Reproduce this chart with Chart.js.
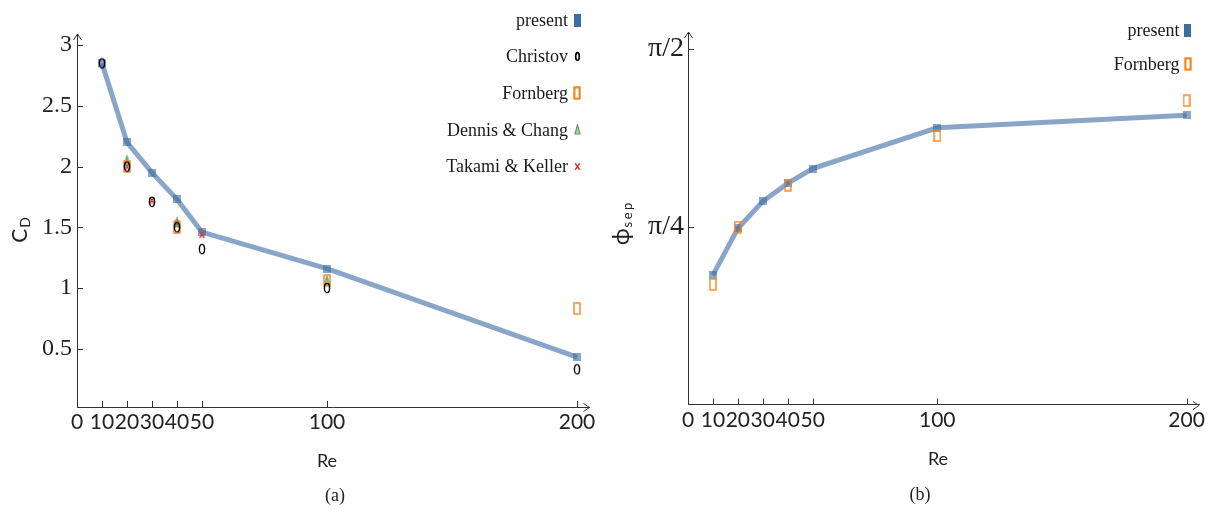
<!DOCTYPE html>
<html>
<head>
<meta charset="utf-8">
<script src="https://cdn.jsdelivr.net/npm/chart.js@4.4.1/dist/chart.umd.min.js"></script>
<style>
  html, body { margin: 0; padding: 0; background: #fff; }
  #wrap { position: relative; width: 1208px; height: 515px; overflow: hidden; }
  .panel { position: absolute; top: 0; width: 604px; height: 515px; }
  .cap { position: absolute; font: 18px "Liberation Serif", serif; color: #222; transform: translate(-50%, -50%); white-space: nowrap; }
</style>
</head>
<body>
<div id="wrap">
  <div class="panel" style="left:0"><canvas id="cd" width="604" height="515"></canvas></div>
  <div class="panel" style="left:604px"><canvas id="phi" width="604" height="515"></canvas></div>
  <div class="cap" style="left:335px;top:495px">(a)</div>
  <div class="cap" style="left:920px;top:494px">(b)</div>
</div>
<script>
// Reynolds numbers and axis ticks
const reTicks = [0, 10, 20, 30, 40, 50, 100, 200];
const re = [10, 20, 30, 40, 50, 100, 200];

// Drag coefficient C_D
const cdTicks = [0.5, 1, 1.5, 2, 2.5, 3];
const cdPresent = [2.85, 2.20, 1.95, 1.73, 1.46, 1.16, 0.43];
const christovRe = [10, 20, 30, 40, 50, 100, 200];
const cdChristov = [2.85, 2.00, 1.71, 1.50, 1.32, 1.00, 0.33];
const fornbergCdRe = [20, 40, 100, 200];
const cdFornberg = [2.00, 1.50, 1.06, 0.83];
const dennisRe = [20, 40, 100];
const cdDennis = [2.05, 1.54, 1.06];
const takamiRe = [20, 30, 40, 50];
const cdTakami = [2.00, 1.72, 1.53, 1.44];

// Separation angle phi_sep (radians)
const phiTicks = [Math.PI / 4, Math.PI / 2];
const phiTickLabels = ['π/4', 'π/2'];
const phiPresent = [0.571, 0.777, 0.897, 0.976, 1.041, 1.221, 1.277];
const fornbergPhiRe = [10, 20, 40, 100, 200];
const phiFornberg = [0.530, 0.782, 0.968, 1.187, 1.341];

const pts = (xs, ys) => xs.map((v, i) => ({ x: v, y: ys[i] }));

// small marker glyphs
function glyph(w, h, draw) {
  const c = document.createElement('canvas');
  c.width = w; c.height = h;
  draw(c.getContext('2d'), w, h);
  return c;
}
const BLUE_LINE = '#89a6c8';
const mkPresent = glyph(8, 8, (g, w, h) => { g.fillStyle = 'rgba(62,106,160,0.6)'; g.fillRect(0, 0, w, h); });
const mkPresentKey = glyph(7, 13, (g, w, h) => { g.fillStyle = '#3d6da3'; g.fillRect(0, 0, w, h); });
const ellipse = (lw) => (g, w, h) => {
  g.strokeStyle = '#000'; g.lineWidth = lw;
  g.beginPath(); g.ellipse(w / 2, h / 2, w / 2 - lw, h / 2 - lw, 0, 0, Math.PI * 2); g.stroke();
};
const mkChristov = glyph(8, 12, ellipse(1.4));
const mkChristovKey = glyph(7, 11, ellipse(1.7));
const box = (lw) => (g, w, h) => {
  g.strokeStyle = '#f5861c'; g.lineWidth = lw;
  g.strokeRect(lw / 2 + 0.3, lw / 2 + 0.3, w - lw - 0.6, h - lw - 0.6);
};
const mkFornberg = glyph(8, 13, box(1.4));
const mkFornbergKey = glyph(8, 14, box(2.2));
const tri = (g, w, h) => {
  g.strokeStyle = '#5a9c55'; g.fillStyle = 'rgba(90,156,85,0.45)'; g.lineWidth = 1.2;
  g.beginPath(); g.moveTo(w / 2, 0.8); g.lineTo(w - 1, h - 1); g.lineTo(1, h - 1); g.closePath(); g.fill(); g.stroke();
};
const mkDennis = glyph(7, 11, tri);
const mkDennisKey = glyph(7, 11, tri);
const cross = (g, w, h) => {
  g.strokeStyle = '#d23a3c'; g.lineWidth = 1.5;
  g.beginPath(); g.moveTo(1.2, 1.2); g.lineTo(w - 1.2, h - 1.2); g.moveTo(w - 1.2, 1.2); g.lineTo(1.2, h - 1.2); g.stroke();
};
const mkTakami = glyph(7, 9, cross);
const mkTakamiKey = glyph(7, 9, cross);

// axis arrows, inward ticks, axis titles and the key
const decor = {
  id: 'decor',
  afterDraw(chart, args, o) {
    const { ctx, chartArea: a, scales: { x, y } } = chart;
    ctx.save();
    ctx.strokeStyle = '#333';
    ctx.lineWidth = 1;
    ctx.beginPath();
    x.ticks.forEach(t => {
      if (t.value === 0) return;
      const px = Math.round(x.getPixelForValue(t.value)) + 0.5;
      ctx.moveTo(px, a.bottom); ctx.lineTo(px, a.bottom - 6);
    });
    y.ticks.forEach(t => {
      const py = Math.round(y.getPixelForValue(t.value)) + 0.5;
      ctx.moveTo(a.left, py); ctx.lineTo(a.left + 6, py);
    });
    const L = Math.round(a.left) + 0.5, B = Math.round(a.bottom) + 0.5;
    ctx.moveTo(L - 4, a.top + 6); ctx.lineTo(L, a.top); ctx.lineTo(L + 4, a.top + 6);
    ctx.moveTo(a.right - 6, B - 4); ctx.lineTo(a.right, B); ctx.lineTo(a.right - 6, B + 4);
    ctx.stroke();

    // x title
    ctx.fillStyle = '#222';
    ctx.font = '18px Lato';
    ctx.textAlign = 'center';
    ctx.textBaseline = 'middle';
    ctx.fillText(o.xTitle.text, o.xTitle.x, o.xTitle.y);

    // y title with subscript, rotated
    const t = o.yTitle;
    ctx.translate(t.x, t.y);
    ctx.rotate(-Math.PI / 2);
    ctx.textAlign = 'left';
    ctx.textBaseline = 'alphabetic';
    ctx.font = t.mainFont;
    const wMain = ctx.measureText(t.main).width;
    ctx.font = t.subFont;
    const wSub = ctx.measureText(t.sub).width + t.subSpacing * (t.sub.length - 1);
    const x0 = -(wMain + t.gap + wSub) / 2;
    ctx.font = t.mainFont;
    ctx.fillText(t.main, x0, t.base);
    ctx.font = t.subFont;
    let sx = x0 + wMain + t.gap;
    for (const ch of t.sub) {
      ctx.fillText(ch, sx, t.base + t.subDrop);
      sx += ctx.measureText(ch).width + t.subSpacing;
    }
    ctx.setTransform(1, 0, 0, 1, 0, 0);

    // key
    const k = o.key;
    ctx.font = '18px "Liberation Serif"';
    ctx.textAlign = 'right';
    ctx.textBaseline = 'middle';
    ctx.fillStyle = '#1a1a1a';
    k.items.forEach((it, i) => {
      const cy = k.y0 + i * k.step;
      ctx.fillText(it.label, k.textRight, cy + 1);
      ctx.drawImage(it.icon, Math.round(k.iconX - it.icon.width / 2), Math.round(cy - it.icon.height / 2));
    });
    ctx.restore();
  }
};

function xScale(height) {
  return {
    type: 'linear', min: 0, max: 205,
    afterBuildTicks: s => { s.ticks = reTicks.map(v => ({ value: v })); },
    afterFit: s => { s.height = height; s.paddingLeft = 0; s.paddingRight = 0; },
    ticks: { autoSkip: false, maxRotation: 0, minRotation: 0, padding: 3, color: '#222',
             font: { family: 'Lato', size: 21 }, callback: v => String(v) },
    grid: { display: false, drawTicks: false },
    border: { display: true, color: '#333', width: 1 }
  };
}

const presentStyle = {
  borderColor: BLUE_LINE, borderWidth: 5, showLine: true, pointStyle: mkPresent,
  pointRadius: 4, pointHoverRadius: 4, order: 10, clip: false
};
const markerDs = (label, data, icon) => ({ label, data, pointStyle: icon, showLine: false,
  pointRadius: 5, pointHoverRadius: 5, order: 1, clip: false });

new Chart(document.getElementById('cd'), {
  type: 'scatter',
  data: {
    datasets: [
      Object.assign({ label: 'present', data: pts(re, cdPresent) }, presentStyle),
      markerDs('Christov', pts(christovRe, cdChristov), mkChristov),
      markerDs('Fornberg', pts(fornbergCdRe, cdFornberg), mkFornberg),
      markerDs('Dennis & Chang', pts(dennisRe, cdDennis), mkDennis),
      markerDs('Takami & Keller', pts(takamiRe, cdTakami), mkTakami)
    ]
  },
  options: {
    responsive: false, animation: false,
    layout: { padding: { left: 0, top: 34, right: 14.5, bottom: 48 } },
    scales: {
      x: xScale(60),
      y: {
        type: 'linear', min: 0.02, max: 3.092,
        afterBuildTicks: s => { s.ticks = cdTicks.map(v => ({ value: v })); },
        afterFit: s => { s.width = 77; s.paddingTop = 0; s.paddingBottom = 0; },
        ticks: { padding: 5, color: '#222', font: { family: 'Liberation Serif', size: 24 },
                 callback: v => String(v) },
        grid: { display: false, drawTicks: false },
        border: { display: true, color: '#333', width: 1 }
      }
    },
    plugins: {
      legend: { display: false }, tooltip: { enabled: false },
      decor: {
        xTitle: { text: 'Re', x: 327, y: 461 },
        yTitle: { x: 27, y: 230, main: 'C', sub: 'D', mainFont: '21px Lato', subFont: '14px Lato',
                  gap: 1, subSpacing: 0, subDrop: 3, base: 0 },
        key: { textRight: 568, iconX: 577, y0: 20, step: 36.6, items: [
          { label: 'present', icon: mkPresentKey },
          { label: 'Christov', icon: mkChristovKey },
          { label: 'Fornberg', icon: mkFornbergKey },
          { label: 'Dennis & Chang', icon: mkDennisKey },
          { label: 'Takami & Keller', icon: mkTakamiKey }
        ] }
      }
    }
  },
  plugins: [decor]
});

new Chart(document.getElementById('phi'), {
  type: 'scatter',
  data: {
    datasets: [
      Object.assign({ label: 'present', data: pts(re, phiPresent) }, presentStyle),
      markerDs('Fornberg', pts(fornbergPhiRe, phiFornberg), mkFornberg)
    ]
  },
  options: {
    responsive: false, animation: false,
    layout: { padding: { left: 0, top: 32, right: 7.5, bottom: 50.5 } },
    scales: {
      x: xScale(60),
      y: {
        type: 'linear', min: 0, max: 1.644,
        afterBuildTicks: s => { s.ticks = phiTicks.map(v => ({ value: v })); },
        afterFit: s => { s.width = 84; s.paddingTop = 0; s.paddingBottom = 0; },
        ticks: { padding: 4, color: '#222', font: { family: 'Liberation Serif', size: 28 },
                 callback: (v, i) => phiTickLabels[i] },
        grid: { display: false, drawTicks: false },
        border: { display: true, color: '#333', width: 1 }
      }
    },
    plugins: {
      legend: { display: false }, tooltip: { enabled: false },
      decor: {
        xTitle: { text: 'Re', x: 334, y: 459 },
        yTitle: { x: 25, y: 224, main: 'ϕ', sub: 'sep', mainFont: '23px Lato', subFont: '13px Lato',
                  gap: 1, subSpacing: 2.5, subDrop: 3, base: 0 },
        key: { textRight: 575.5, iconX: 583.5, y0: 30, step: 34, items: [
          { label: 'present', icon: mkPresentKey },
          { label: 'Fornberg', icon: mkFornbergKey }
        ] }
      }
    }
  },
  plugins: [decor]
});
</script>
</body>
</html>
